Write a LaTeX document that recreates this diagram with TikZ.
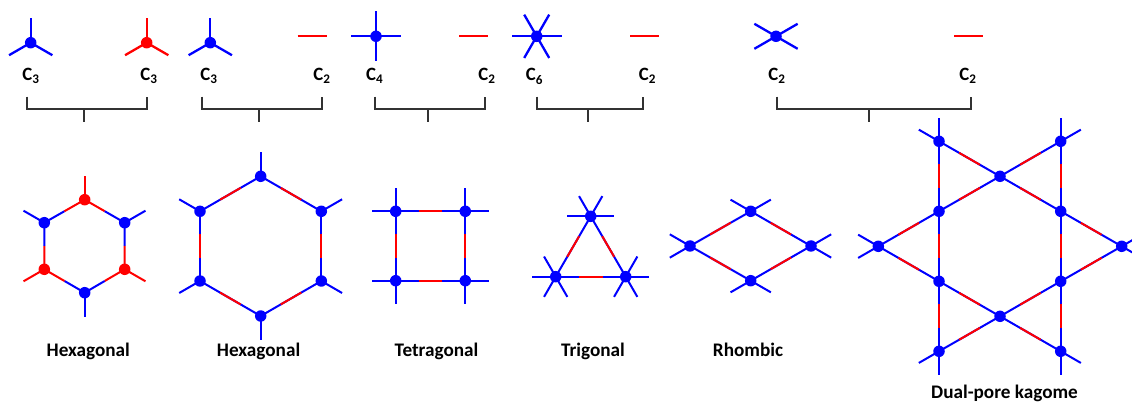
\documentclass[tikz,border=0pt]{standalone}
\usepackage{fontspec}
\setmainfont{Carlito}
\usetikzlibrary{calc,backgrounds}
\definecolor{dblue}{RGB}{0,0,255}
\definecolor{dred}{RGB}{255,0,0}
\definecolor{brk}{RGB}{50,50,50}
\tikzset{
  bdot/.style={circle,fill=dblue,inner sep=0pt,minimum size=11.5pt},
  rdot/.style={circle,fill=dred,inner sep=0pt,minimum size=11.5pt},
  motifb/.style={draw=dblue,line width=2.3pt},
  motifr/.style={draw=dred,line width=2.3pt},
  latb/.style={draw=dblue,line width=2pt},
  latr/.style={draw=dred,line width=2pt},
  brack/.style={draw=brk,line width=1.7pt},
  lab/.style={font=\bfseries\fontsize{18.8}{20}\selectfont,text=black,inner sep=0pt,anchor=base},
  captxt/.style={font=\bfseries\fontsize{19.2}{20}\selectfont,text=black,inner sep=0pt,anchor=base},
}
% arms: node, angles (screen sense: 90 = down), length, style
\newcommand{\arms}[4]{\foreach \aang in {#2}{\draw[#4] (#1.center) -- ++(\aang:#3);}}
% blue edge with red middle third
\newcommand{\medge}[2]{\draw[latb] (#1.center) -- (#2.center);
  \draw[latr] ($(#1.center)!.33!(#2.center)$) -- ($(#1.center)!.67!(#2.center)$);}
% edge with each half in colour
\newcommand{\hedge}[4]{\draw[#3] (#1.center) -- ($(#1.center)!.5!(#2.center)$);
  \draw[#4] ($(#1.center)!.5!(#2.center)$) -- (#2.center);}
% bracket: name, left x, right x, stem x
\newcommand{\bracket}[4]{
  \coordinate (#1l) at (#2,96.7); \coordinate (#1r) at (#3,96.7);
  \coordinate (#1s) at (#4,108.7); \coordinate (#1e) at (#4,122);
  \draw[brack] (#1l) -- (#1l |- #1s) -- (#1r |- #1s) -- (#1r);
  \draw[brack] (#1s) -- (#1e);}
% red stub in the top row
\newcommand{\stub}[3]{\coordinate (#1a) at (#2,36); \coordinate (#1b) at (#3,36);
  \draw[motifr] (#1a) -- (#1b);}
\begin{document}
\begin{tikzpicture}[x=1pt,y=-1pt]
\useasboundingbox (0,0) rectangle (1132,403);
% ---- top row motifs
\node[bdot] (m1) at (30.7,42.7) {};
\node[rdot] (m2) at (146.7,42.7) {};
\node[bdot] (m3) at (210.3,42.7) {};
\node[bdot] (m4) at (376,36.3) {};
\node[bdot] (m5) at (536.7,36.3) {};
\node[bdot] (m6) at (776,36.3) {};
\begin{pgfonlayer}{background}
\arms{m1}{-90,30,150}{25}{motifb}
\arms{m2}{-90,30,150}{25}{motifr}
\arms{m3}{-90,30,150}{25}{motifb}
\arms{m4}{0,90,180,270}{25}{motifb}
\arms{m5}{0,60,120,180,240,300}{25}{motifb}
\arms{m6}{30,150,210,330}{25}{motifb}
\end{pgfonlayer}
\stub{s1}{297.7}{326.7}
\stub{s2}{459.3}{488.3}
\stub{s3}{630}{659}
\stub{s4}{954}{982.5}
% ---- symmetry labels
\node[lab] (l1) at (31,81) {C\textsubscript{3}};
\node[lab] (l2) at (149,81) {C\textsubscript{3}};
\node[lab] (l3) at (209,81) {C\textsubscript{3}};
\node[lab] (l4) at (322,81) {C\textsubscript{2}};
\node[lab] (l5) at (374.7,81) {C\textsubscript{4}};
\node[lab] (l6) at (487,81) {C\textsubscript{2}};
\node[lab] (l7) at (534.5,81) {C\textsubscript{6}};
\node[lab] (l8) at (647.5,81) {C\textsubscript{2}};
\node[lab] (l9) at (777,81) {C\textsubscript{2}};
\node[lab] (l10) at (968,81) {C\textsubscript{2}};
% ---- brackets
\bracket{b1}{26.7}{147}{84.3}
\bracket{b2}{201.7}{322.3}{259.3}
\bracket{b3}{375.3}{485}{427.7}
\bracket{b4}{537.3}{643}{588}
\bracket{b5}{777}{971}{869}
% ---- hexagonal 1
\node[rdot] (ha) at (84.7,199.7) {};
\node[bdot] (hb) at (124.7,222.7) {};
\node[rdot] (hc) at (124.7,269.3) {};
\node[bdot] (hd) at (84.7,292.7) {};
\node[rdot] (he) at (44.3,269.3) {};
\node[bdot] (hf) at (44.3,222.7) {};
\begin{pgfonlayer}{background}
\arms{ha}{-90}{24}{latr}
\arms{hb}{-30}{24}{latb}
\arms{hc}{30}{24}{latr}
\arms{hd}{90}{24}{latb}
\arms{he}{150}{24}{latr}
\arms{hf}{210}{24}{latb}
\hedge{ha}{hb}{latr}{latb}
\hedge{hb}{hc}{latb}{latr}
\hedge{hc}{hd}{latr}{latb}
\hedge{hd}{he}{latb}{latr}
\hedge{he}{hf}{latr}{latb}
\hedge{hf}{ha}{latb}{latr}
\end{pgfonlayer}
% ---- hexagonal 2
\node[bdot] (ga) at (260.7,176.3) {};
\node[bdot] (gb) at (321.3,211.3) {};
\node[bdot] (gc) at (321.3,281) {};
\node[bdot] (gd) at (260.7,316) {};
\node[bdot] (ge) at (200,281) {};
\node[bdot] (gf) at (200,211.3) {};
\begin{pgfonlayer}{background}
\arms{ga}{-90}{24}{latb}
\arms{gb}{-30}{24}{latb}
\arms{gc}{30}{24}{latb}
\arms{gd}{90}{24}{latb}
\arms{ge}{150}{24}{latb}
\arms{gf}{210}{24}{latb}
\medge{ga}{gb}\medge{gb}{gc}\medge{gc}{gd}\medge{gd}{ge}\medge{ge}{gf}\medge{gf}{ga}
\end{pgfonlayer}
% ---- tetragonal
\node[bdot] (ta) at (395.7,211.3) {};
\node[bdot] (tb) at (465.3,211.3) {};
\node[bdot] (tc) at (465.3,280.7) {};
\node[bdot] (td) at (395.7,280.7) {};
\begin{pgfonlayer}{background}
\arms{ta}{180,270}{23.3}{latb}
\arms{tb}{0,270}{23.3}{latb}
\arms{tc}{0,90}{23.3}{latb}
\arms{td}{180,90}{23.3}{latb}
\medge{ta}{tb}\medge{tb}{tc}\medge{td}{tc}\medge{ta}{td}
\end{pgfonlayer}
% ---- trigonal
\node[bdot] (ra) at (590.7,216.3) {};
\node[bdot] (rb) at (625.7,276.7) {};
\node[bdot] (rc) at (555.7,276.7) {};
\begin{pgfonlayer}{background}
\arms{ra}{0,180,240,300}{23.3}{latb}
\arms{rb}{0,60,120,300}{23.3}{latb}
\arms{rc}{60,120,180,240}{23.3}{latb}
\medge{ra}{rb}\medge{rb}{rc}\medge{rc}{ra}
\end{pgfonlayer}
% ---- rhombic
\node[bdot] (qa) at (750.7,211.3) {};
\node[bdot] (qb) at (811,246) {};
\node[bdot] (qc) at (750.7,280.7) {};
\node[bdot] (qd) at (690,246) {};
\begin{pgfonlayer}{background}
\arms{qa}{210,330}{23.3}{latb}
\arms{qb}{30,330}{23.3}{latb}
\arms{qc}{30,150}{23.3}{latb}
\arms{qd}{150,210}{23.3}{latb}
\medge{qa}{qb}\medge{qb}{qc}\medge{qc}{qd}\medge{qd}{qa}
\end{pgfonlayer}
% ---- kagome
\node[bdot] (ka) at (939,141.3) {};
\node[bdot] (kb) at (1060.7,141.3) {};
\node[bdot] (kc) at (1000,176.3) {};
\node[bdot] (kd) at (939,211.3) {};
\node[bdot] (ke) at (1060.7,211.3) {};
\node[bdot] (kf) at (878.3,246.3) {};
\node[bdot] (kg) at (1121.7,246.3) {};
\node[bdot] (kh) at (939,281.3) {};
\node[bdot] (ki) at (1060.7,281.3) {};
\node[bdot] (kj) at (1000,316.3) {};
\node[bdot] (kk) at (939,351.3) {};
\node[bdot] (kl) at (1060.7,351.3) {};
\begin{pgfonlayer}{background}
\arms{ka}{270,210}{23.3}{latb}
\arms{kb}{270,330}{23.3}{latb}
\arms{kk}{90,150}{23.3}{latb}
\arms{kl}{90,30}{23.3}{latb}
\arms{kf}{150,210}{23.3}{latb}
\arms{kg}{30,330}{23.3}{latb}
\medge{ka}{kd}\medge{kd}{kh}\medge{kh}{kk}
\medge{kb}{ke}\medge{ke}{ki}\medge{ki}{kl}
\medge{ka}{kc}\medge{kc}{ke}\medge{ke}{kg}\medge{kg}{ki}\medge{ki}{kj}\medge{kj}{kk}
\medge{kb}{kc}\medge{kc}{kd}\medge{kd}{kf}\medge{kf}{kh}\medge{kh}{kj}\medge{kj}{kl}
\end{pgfonlayer}
% ---- captions
\node[captxt] (c1) at (88.3,356) {Hexagonal};
\node[captxt] (c2) at (258.6,356) {Hexagonal};
\node[captxt] (c3) at (436.5,356) {Tetragonal};
\node[captxt] (c4) at (593,356) {Trigonal};
\node[captxt] (c5) at (748,356) {Rhombic};
\node[captxt] (c6) at (1004.5,398.2) {Dual-pore kagome};
\end{tikzpicture}
\end{document}
